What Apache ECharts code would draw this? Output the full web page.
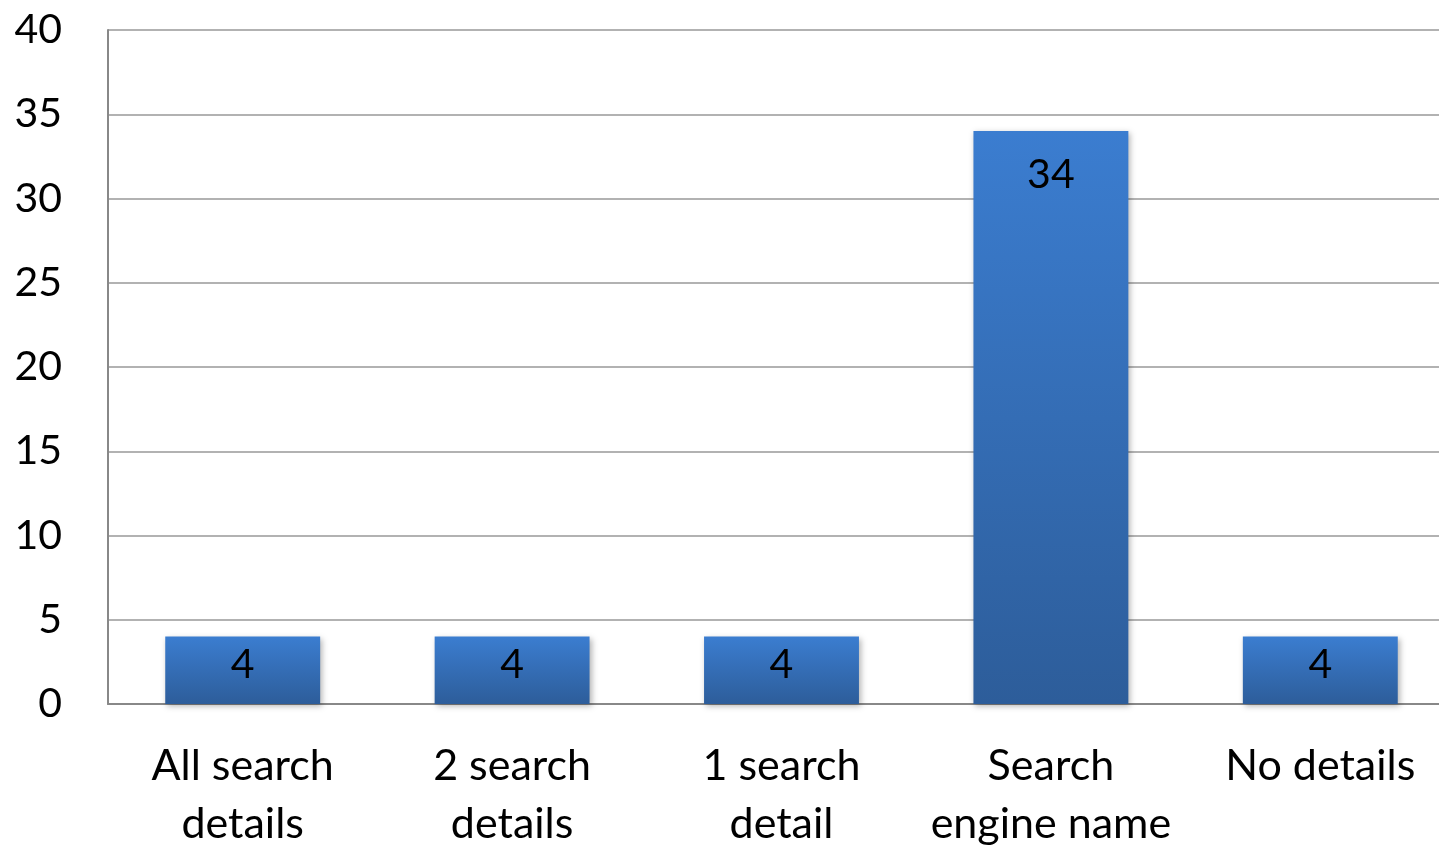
<!DOCTYPE html>
<html><head><meta charset="utf-8">
<script src="https://cdn.jsdelivr.net/npm/echarts@6/dist/echarts.min.js"></script>
<style>html,body{margin:0;padding:0;background:#fff}#c{width:1439px;height:846px}</style>
</head><body><div id="c"></div>
<script>
const categories = ['All search\ndetails', '2 search\ndetails', '1 search\ndetail', 'Search\nengine name', 'No details'];
const values = [4, 4, 4, 34, 4];
const yTicks = { min: 0, max: 40, interval: 5 };

const chart = echarts.init(document.getElementById('c'));
const FONT = 'Lato';
const seriesData = values.map(v => v < 8
  ? { value: v, label: { position: 'inside', offset: [0, -6] } }
  : { value: v });
chart.setOption({
  animation: false,
  grid: { left: 108, right: -16, top: 30, bottom: 142, outerBoundsMode: 'none', containLabel: false },
  xAxis: {
    type: 'category', data: categories,
    axisLine: { lineStyle: { color: '#888', width: 2 } },
    axisTick: { show: false },
    axisLabel: { fontFamily: FONT, fontSize: 43, color: '#000', margin: 33, lineHeight: 58, interval: 0 }
  },
  yAxis: {
    type: 'value', min: yTicks.min, max: yTicks.max, interval: yTicks.interval,
    axisLine: { show: true, lineStyle: { color: '#888', width: 2 } },
    axisTick: { show: false },
    splitLine: { lineStyle: { color: '#999', width: 1.5 } },
    axisLabel: { fontFamily: FONT, fontSize: 41, color: '#000', margin: 46 }
  },
  series: [{
    type: 'bar', data: seriesData, barWidth: '57.5%',
    itemStyle: {
      color: new echarts.graphic.LinearGradient(0, 0, 0, 1, [
        { offset: 0, color: '#3b7dd0' }, { offset: 1, color: '#2d5d9a' }
      ]),
      shadowColor: 'rgba(0,0,0,0.3)', shadowBlur: 6, shadowOffsetX: 2, shadowOffsetY: 2
    },
    label: { show: true, position: 'insideTop', distance: 23, fontFamily: FONT, fontSize: 41, color: '#000' }
  }]
});
</script></body></html>
